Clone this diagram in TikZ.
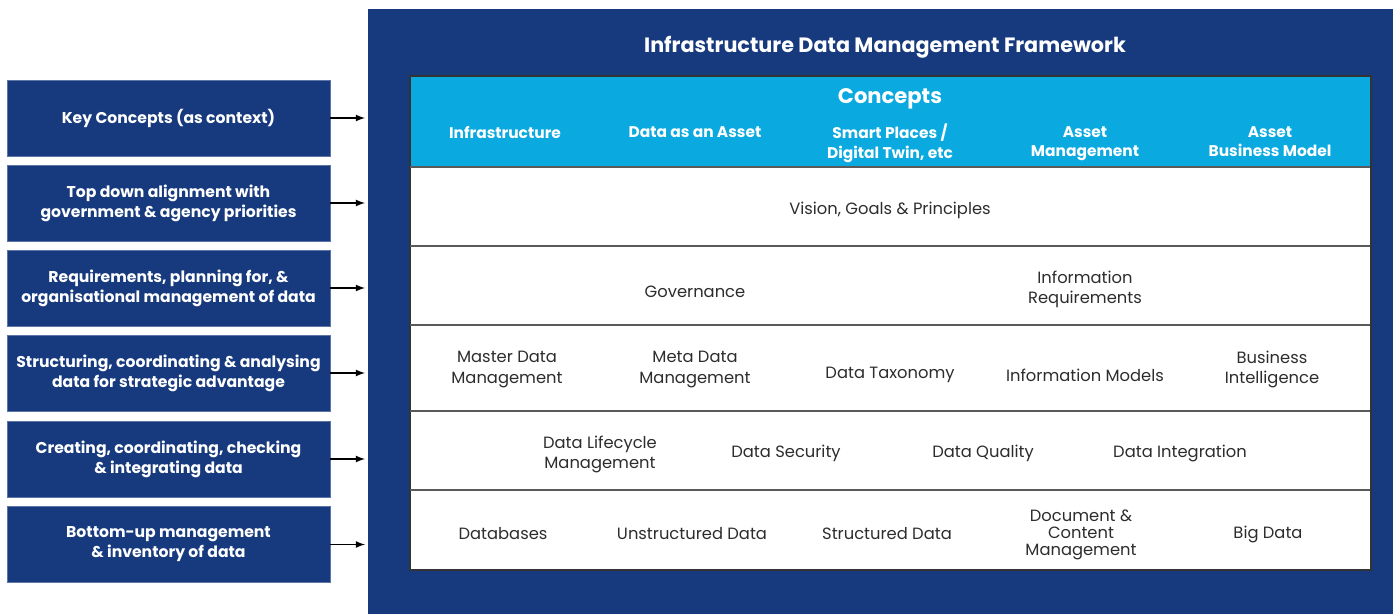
\documentclass[tikz,border=0pt]{standalone}
\usepackage{fontspec}
\setmainfont{Poppins}
\usepackage{xcolor}
\usepackage{tikz}
\usetikzlibrary{arrows,shapes,calc}

\definecolor{navy}{RGB}{23,58,126}
\definecolor{skyblue}{RGB}{10,169,224}
\definecolor{txtgrey}{RGB}{45,45,45}
\definecolor{rulegrey}{RGB}{90,90,90}

\tikzset{
    keybox/.style={fill=navy, draw=navy!70!white, minimum width=323*0.02cm, minimum height=76*0.02cm,
        text=white, font=\fontsize{8.9}{11.4}\selectfont\bfseries, align=center, inner sep=0pt},
    colhead/.style={text=white, font=\fontsize{8.8}{11.2}\selectfont\bfseries, align=center, anchor=north},
    cell/.style={text=txtgrey, font=\fontsize{9.3}{11.4}\selectfont, align=center},
    rowline/.style={draw=rulegrey, line width=0.6pt}
}

\begin{document}
\begin{tikzpicture}[x=0.02cm, y=-0.02cm]
    \useasboundingbox (0,0) rectangle (1393,614);

    % Framework panel
    \node[fill=navy, minimum width=1025*0.02cm, minimum height=605*0.02cm, inner sep=0pt, anchor=north west]
        (frame) at (368,9) {};
    \node[text=white, font=\fontsize{11.8}{14}\selectfont\bfseries] (title) at (885,47)
        {Infrastructure Data Management Framework};

    % Table
    \node[fill=white, draw=black!80, line width=0.6pt, minimum width=960*0.02cm, minimum height=493*0.02cm,
        inner sep=0pt, anchor=north west] (table) at (410,76) {};
    \fill[skyblue] (410,76) rectangle (1370,167);
    \draw[black!80, line width=0.6pt] (table.north west) rectangle (table.south east);
    \foreach \y in {167,246,325,411,490}
        \draw[rowline] (410,\y) -- (1370,\y);

    % Concepts header
    \node[text=white, font=\fontsize{12}{14}\selectfont\bfseries] (concepts) at (890,99) {Concepts};
    \node[colhead] (infra) at (505,120) {Infrastructure};
    \node[colhead] (asset) at (695,120) {Data as an Asset};
    \node[colhead] (smart) at (890,118) {Smart Places /\\Digital Twin, etc};
    \node[colhead] (assetmgmt) at (1085,120) {Asset\\Management};
    \node[colhead] (business) at (1270,120) {Asset\\Business Model};

    % Rows
    \node[cell] (vision) at (890,210) {Vision, Goals \& Principles};

    \node[cell] (gov) at (695,292) {Governance};
    \node[cell] (inforeq) at (1085,289) {Information\\Requirements};

    \node[cell] (mdm) at (507,369.5) {Master Data\\Management};
    \node[cell] (meta) at (695,369.5) {Meta Data\\Management};
    \node[cell] (taxonomy) at (890,375) {Data Taxonomy};
    \node[cell] (infomodels) at (1085,375) {Information Models};
    \node[cell] (bi) at (1272,369.5) {Business\\Intelligence};

    \node[cell] (lifecycle) at (600,454) {Data Lifecycle\\Management};
    \node[cell] (security) at (786,453) {Data Security};
    \node[cell] (quality) at (983,453) {Data Quality};
    \node[cell] (integration) at (1180,453) {Data Integration};

    \node[cell] (databases) at (503,534) {Databases};
    \node[cell] (unstruct) at (692,534) {Unstructured Data};
    \node[cell] (struct) at (887,534) {Structured Data};
    \node[cell, font=\fontsize{9.3}{9.5}\selectfont] (document) at (1081,535) {Document \&\\Content\\Management};
    \node[cell] (bigdata) at (1268,534) {Big Data};

    % Left hand boxes with arrows
    \foreach \i/\y/\txt in {1/118/{Key Concepts (as context)},
                            2/203/{Top down alignment with\\government \& agency priorities},
                            3/288/{Requirements, planning for, \&\\organisational management of data},
                            4/373/{Structuring, coordinating \& analysing\\data for strategic advantage},
                            5/459/{Creating, coordinating, checking\\\& integrating data},
                            6/544.5/{Bottom-up management\\\& inventory of data}} {
        \node[keybox] (key\i) at (168.5,\y) {\txt};
        \draw[-latex, line width=0.8pt] (key\i.east) -- ($(key\i.east -| frame.west)+(-3,0)$);
    }
\end{tikzpicture}
\end{document}
